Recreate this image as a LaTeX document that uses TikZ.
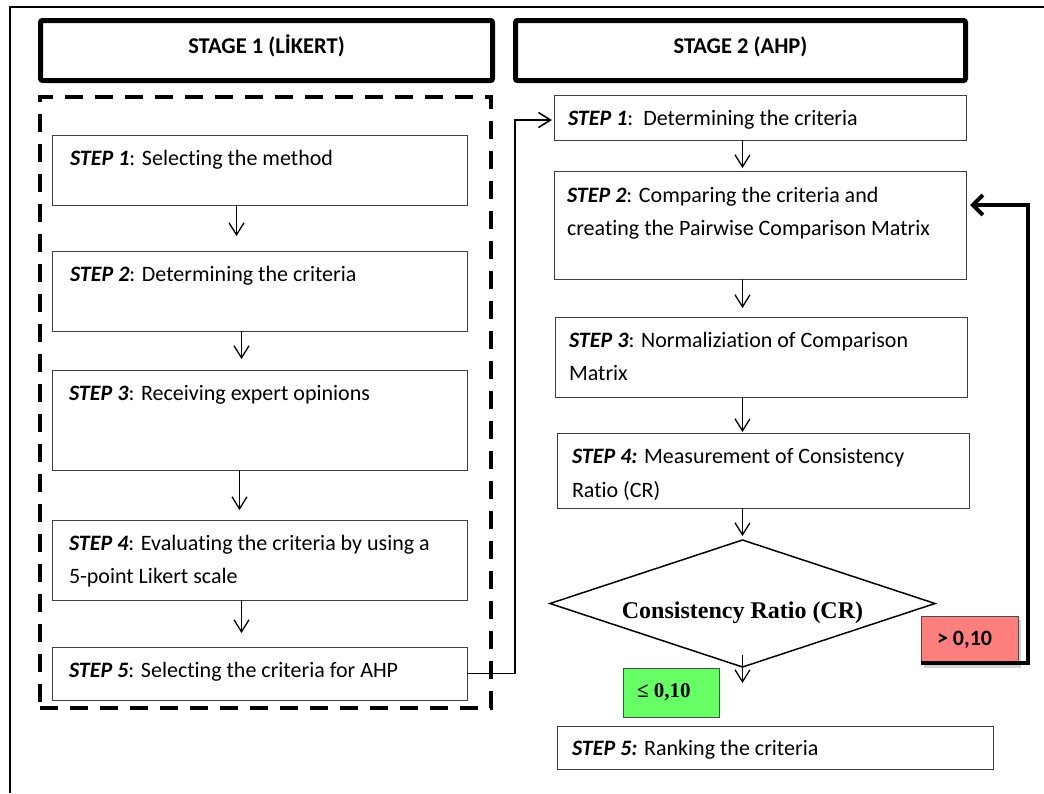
\documentclass[tikz,border=0pt]{standalone}
\usepackage{fontspec}
\setmainfont{Carlito}[Ligatures=NoCommon]
\newfontfamily\tnr{Liberation Serif}
\usetikzlibrary{arrows.meta,shapes.geometric,shadows}
\newcommand\stp[1]{\textbf{\textit{#1}}}
\begin{document}
\begin{tikzpicture}[x=1pt,y=-1pt,
  box/.style={draw=black!75, line width=1pt, rectangle, inner sep=0pt, outer sep=0pt, anchor=north west},
  hdr/.style={draw=black, line width=5pt, rounded corners=2pt, rectangle, inner sep=0pt, outer sep=0pt,
    anchor=north west, minimum height=60pt, text height=10pt, text depth=5pt,
    font=\fontsize{22.5}{27}\selectfont\bfseries},
  txt/.style={anchor=base west, inner sep=0pt, outer sep=0pt, font=\fontsize{22}{26}\selectfont},
  arr/.style={line width=1.3pt, -{Straight Barb[length=12pt,width=15pt]}},
  fbarr/.style={line width=4pt, -{Straight Barb[length=10pt,width=20pt]}},
]
\useasboundingbox (0,0) rectangle (1044,793);
% outer frame
\draw[line width=2pt] (10,793) -- (10,7) -- (1044,7);

% headers
\node[hdr, minimum width=452pt] (h1) at (40.5,20.5) {STAGE 1 (LİKERT)};
\node[hdr, minimum width=450pt] (h2) at (515.5,20.5) {STAGE 2 (AHP)};

% dashed group
\node[draw, line width=4pt, dash pattern=on 18pt off 12pt, rectangle, inner sep=0pt, outer sep=0pt,
  anchor=north west, minimum width=451pt, minimum height=611pt] (grp) at (40,97) {};

% stage 1 boxes
\node[box, minimum width=415pt, minimum height=70pt] (s1) at (52,135) {};
\node[box, minimum width=415pt, minimum height=80pt] (s2) at (52,251) {};
\node[box, minimum width=415pt, minimum height=100pt] (s3) at (52,370) {};
\node[box, minimum width=415pt, minimum height=80pt] (s4) at (52,520) {};
\node[box, minimum width=415pt, minimum height=53pt] (s5) at (52,647) {};

\node[txt] (s1t) at ([shift={(18,30)}]s1.north west) {\stp{STEP 1}: Selecting the method};
\node[txt] (s2t) at ([shift={(18,30)}]s2.north west) {\stp{STEP 2}: Determining the criteria};
\node[txt] (s3t) at ([shift={(17,30)}]s3.north west) {\stp{STEP 3}: Receiving expert opinions};
\node[txt] (s4t) at ([shift={(17,30)}]s4.north west) {\stp{STEP 4}: Evaluating the criteria by using a};
\node[txt] (s4u) at ([shift={(17,63)}]s4.north west) {5-point Likert scale};
\node[txt] (s5t) at ([shift={(17,30)}]s5.north west) {\stp{STEP 5}: Selecting the criteria for AHP};

\draw[arr] ([xshift=-23pt]s1.south) -- ++(0,31);
\draw[arr] ([xshift=-18pt]s2.south) -- ++(0,28);
\draw[arr] ([xshift=-20pt]s3.south) -- ++(0,40);
\draw[arr] ([xshift=-18pt]s4.south) -- ++(0,33);

% stage 2 boxes
\node[box, minimum width=412pt, minimum height=45pt] (r1) at (554,95) {};
\node[box, minimum width=412pt, minimum height=108pt] (r2) at (554,171) {};
\node[box, minimum width=412pt, minimum height=80pt] (r3) at (555,317) {};
\node[box, minimum width=412pt, minimum height=75pt] (r4) at (557,433) {};
\node[box, minimum width=436pt, minimum height=43pt] (r5) at (557,726) {};

\node[txt] (r1t) at ([shift={(14,30)}]r1.north west) {\stp{STEP 1}:\ \ Determining the criteria};
\node[txt] (r2t) at ([shift={(13,31)}]r2.north west) {\stp{STEP 2}: Comparing the criteria and};
\node[txt] (r2u) at ([shift={(13,64)}]r2.north west) {creating the Pairwise Comparison Matrix};
\node[txt] (r3t) at ([shift={(14,30)}]r3.north west) {\stp{STEP 3}: Normaliziation of Comparison};
\node[txt] (r3u) at ([shift={(14,63)}]r3.north west) {Matrix};
\node[txt] (r4t) at ([shift={(15,30)}]r4.north west) {\stp{STEP 4:} Measurement of Consistency};
\node[txt] (r4u) at ([shift={(15,64)}]r4.north west) {Ratio (CR)};
\node[txt] (r5t) at ([shift={(15,29)}]r5.north west) {\stp{STEP 5:} Ranking the criteria};

% decision
\node[draw, line width=1.5pt, diamond, aspect=3.03, minimum width=385pt, minimum height=127pt,
  inner sep=0pt, outer sep=0pt, text height=29pt, text depth=0pt,
  font=\tnr\fontsize{24}{28}\selectfont\bfseries] (cr) at (742.5,603.5) {Consistency Ratio (CR)};

\draw[arr] (r1.south -| cr.north) -- ++(0,28);
\draw[arr] (r2.south -| cr.north) -- ++(0,29);
\draw[arr] (r3.south -| cr.north) -- ++(0,35);
\draw[arr] (r4.south -| cr.north) -- ++(0,28);
\draw[arr] ([yshift=12pt]cr.south) -- ++(0,28);

% outcome labels
\node[box, draw=black!70, fill={rgb,255:red,102;green,255;blue,102}, minimum width=96pt, minimum height=49pt] (ok) at (623,668) {};
\node[txt, font=\tnr\fontsize{21}{25}\selectfont\bfseries] (okt) at ([shift={(14,29)}]ok.north west) {≤ 0,10};
\node[box, draw=black!70, fill={rgb,255:red,255;green,127;blue,127}, minimum width=97pt, minimum height=48pt,
  drop shadow={shadow xshift=3pt, shadow yshift=-4pt, opacity=0.35}] (bad) at (921,616) {};
\node[txt, font=\fontsize{22}{26}\selectfont\bfseries] (badt) at ([shift={(16,29)}]bad.north west) {> 0,10};

% connectors
\coordinate (lx) at (515,120);
\coordinate (fbt) at (1028,205);
\draw[arr, line width=1.6pt] (s5.east) -| (lx) -- ([xshift=-2pt]r1.west |- lx);
\draw[fbarr] ([yshift=1pt]bad.south west) -| (fbt) -- ([xshift=4pt]r2.east |- fbt);
\end{tikzpicture}
\end{document}
